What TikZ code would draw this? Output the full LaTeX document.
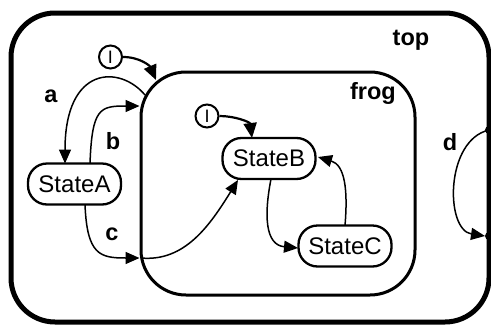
\documentclass[tikz,border=0pt]{standalone}
\usepackage{fontspec}
\setmainfont{Liberation Sans}
\usetikzlibrary{arrows.meta}
\begin{document}
\begin{tikzpicture}[x=1pt,y=-1pt,
  statebox/.style={draw, line width=2.3pt, rounded corners=19pt, minimum width=93pt, minimum height=41pt, inner sep=0pt, font=\fontsize{24}{28}\selectfont},
  initc/.style={draw, circle, line width=2pt, minimum size=23pt, inner sep=0pt, font=\fontsize{18}{20}\selectfont},
  lbl/.style={inner sep=0pt, font=\fontsize{23.5}{27}\selectfont\bfseries},
  edge/.style={line width=1.5pt, -{Triangle[length=14pt,width=12pt]}},
  initedge/.style={line width=2.2pt, -{Triangle[length=15pt,width=13pt]}},
  dotc/.style={circle, fill=black, minimum size=8pt, inner sep=0pt}]
\useasboundingbox (0,0) rectangle (491,325);
% containers
\node[draw, line width=5pt, rounded corners=44pt, minimum width=478pt, minimum height=309pt] (top) at (250,167.5) {};
\node[draw, line width=3pt, rounded corners=45pt, minimum width=274pt, minimum height=223pt] (frog) at (278,183.5) {};
\node[lbl] (toplbl) at (411,40) {top};
\node[lbl] (froglbl) at (373,93) {frog};
% states
\node[statebox] (A) at (74.5,184) {StateA};
\node[statebox] (B) at (269,158.5) {StateB};
\node[statebox] (C) at (345,246) {StateC};
\node[initc] (I1) at (110.5,57) {I};
\node[initc] (I2) at (207,116) {I};
% connector ends
\coordinate (fI) at (156,80);
\coordinate (fa) at (145,95);
\coordinate (Aa) at (65,163.5);
\coordinate (Ab) at (90,163.5);
\coordinate (fb) at (139.5,106);
\coordinate (Ac) at (85,204.5);
\coordinate (fc) at (139.5,258);
\coordinate (fc2) at (141,258);
\coordinate (Bc) at (238,180);
\coordinate (BI) at (252,138);
\coordinate (Bs) at (271,179);
\coordinate (Cw) at (298,248);
\coordinate (Cn) at (345,225.5);
\coordinate (Be) at (318,157);
\node[dotc] (d1) at (489,130) {};
\node[dotc] (d2) at (489,236) {};
\coordinate (d2t) at (485,236);
% labels
\node[lbl] (la) at (51,96) {a};
\node[lbl] (lb) at (113,141) {b};
\node[lbl] (lc) at (112,234) {c};
\node[lbl] (ld) at (450,142) {d};
% transitions
\draw[initedge] (I1.east) .. controls (140,57) and (150,66) .. (fI);
\draw[initedge] (I2.east) .. controls (235,116) and (250,122) .. (BI);
\draw[edge] (fa) .. controls (120,65) and (65,65) .. (Aa);
\draw[edge] (Ab) .. controls (92,108) and (100,106) .. (fb);
\draw[edge] (Ac) .. controls (87,255) and (100,258) .. (fc);
\draw[edge] (fc2) .. controls (185,262) and (210,225) .. (Bc);
\draw[edge] (Bs) .. controls (264,215) and (265,245) .. (Cw);
\draw[edge] (Cn) .. controls (348,190) and (345,165) .. (Be);
\draw[edge] (d1.center) .. controls (445,140) and (445,230) .. (d2t);
\end{tikzpicture}
\end{document}
